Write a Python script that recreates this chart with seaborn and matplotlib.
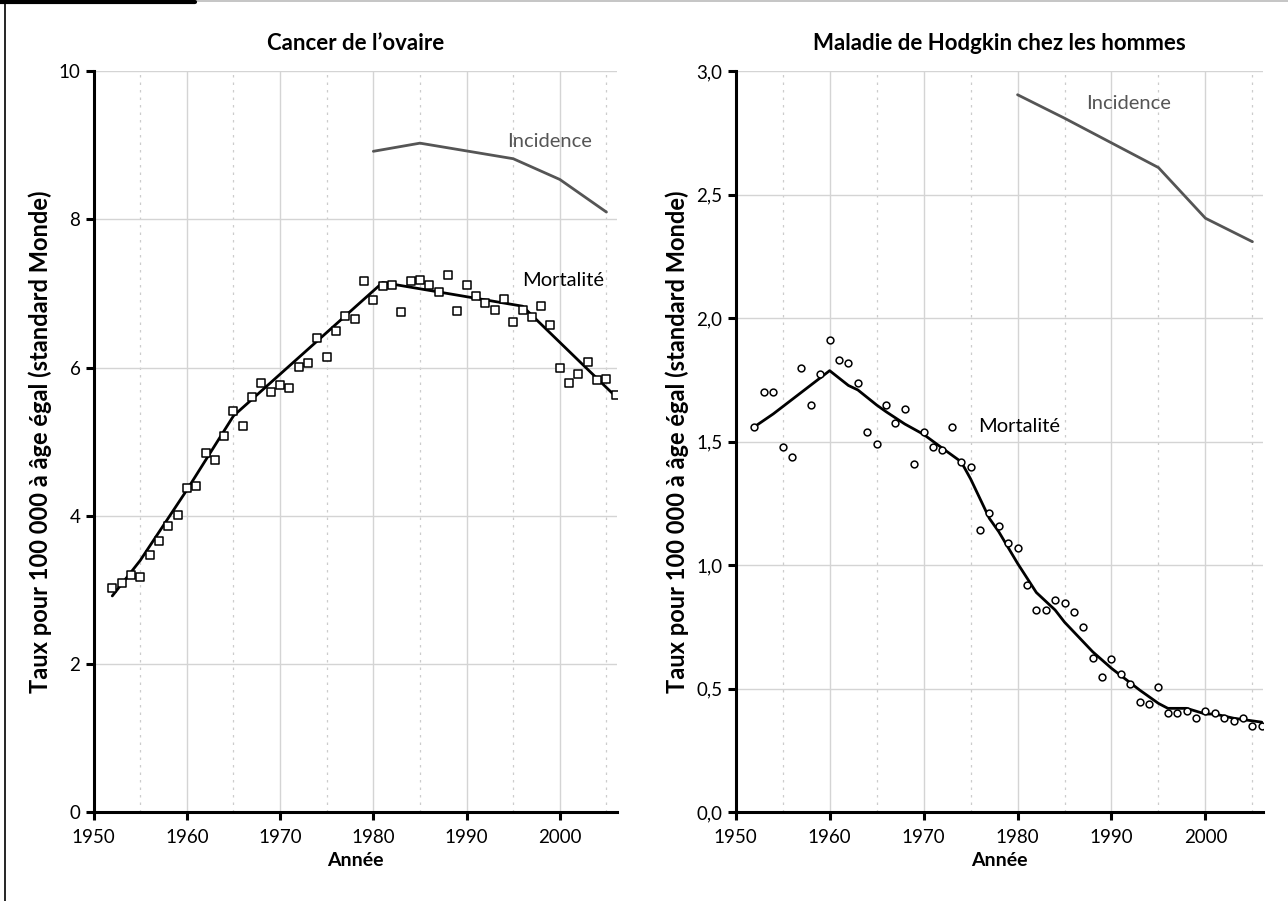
import numpy as np
import pandas as pd
import seaborn as sns
import matplotlib.pyplot as plt
from matplotlib.lines import Line2D
from matplotlib.ticker import MultipleLocator, FuncFormatter

# --- Cancer de l'ovaire: observed mortality (squares) ---
ov_years = list(range(1952, 2007))
ov_mort = [3.03, 3.09, 3.20, 3.18, 3.47, 3.66, 3.87, 4.01, 4.38, 4.41,
           4.85, 4.76, 5.08, 5.42, 5.22, 5.61, 5.80, 5.67, 5.77, 5.73,
           6.01, 6.06, 6.40, 6.15, 6.50, 6.70, 6.66, 7.17, 6.91, 7.10,
           7.12, 6.75, 7.17, 7.18, 7.12, 7.02, 7.25, 6.77, 7.11, 6.97,
           6.87, 6.78, 6.93, 6.61, 6.78, 6.69, 6.83, 6.58, 5.99, 5.80,
           5.91, 6.08, 5.84, 5.85, 5.63]
# fitted mortality trend
ov_fit_years = [1952, 1955, 1960, 1965, 1981, 1996, 2006]
ov_fit = [2.92, 3.40, 4.35, 5.35, 7.15, 6.83, 5.61]
# incidence
ov_inc_years = [1980, 1985, 1995, 2000, 2005]
ov_inc = [8.92, 9.03, 8.82, 8.54, 8.10]

# --- Maladie de Hodgkin chez les hommes ---
hk_years = list(range(1952, 2007))
hk_mort = [1.561, 1.700, 1.700, 1.480, 1.440, 1.800, 1.650, 1.773, 1.912, 1.831,
           1.820, 1.739, 1.540, 1.490, 1.650, 1.577, 1.632, 1.409, 1.541, 1.479,
           1.468, 1.559, 1.418, 1.399, 1.143, 1.211, 1.160, 1.090, 1.069, 0.920,
           0.818, 0.818, 0.860, 0.849, 0.810, 0.749, 0.626, 0.549, 0.619, 0.559,
           0.518, 0.448, 0.440, 0.509, 0.401, 0.401, 0.410, 0.381, 0.410, 0.401,
           0.381, 0.371, 0.381, 0.351, 0.349]
hk_fit_years = [1952, 1954, 1960, 1962, 1963, 1965, 1966, 1968, 1970, 1972,
                1974, 1975, 1977, 1978, 1980, 1982, 1984, 1985, 1988, 1990,
                1993, 1995, 1996, 1998, 2000, 2001, 2003, 2006]
hk_fit = [1.561, 1.613, 1.788, 1.728, 1.710, 1.649, 1.622, 1.572, 1.530, 1.474,
          1.419, 1.350, 1.190, 1.136, 1.008, 0.890, 0.819, 0.770, 0.650, 0.583,
          0.495, 0.441, 0.421, 0.421, 0.398, 0.398, 0.381, 0.365]
hk_inc_years = [1980, 1985, 1990, 1995, 2000, 2005]
hk_inc = [2.905, 2.81, 2.71, 2.61, 2.405, 2.31]

sns.set_style("white")
plt.rcParams['font.family'] = ['Lato', 'DejaVu Sans']
plt.rcParams['text.color'] = 'black'
plt.rcParams['axes.labelcolor'] = 'black'
plt.rcParams['xtick.color'] = 'black'
plt.rcParams['ytick.color'] = 'black'

fig = plt.figure(figsize=(12.88, 9.01), dpi=100)
ax1 = fig.add_axes([0.0727, 0.0984, 0.4061, 0.8225])
ax2 = fig.add_axes([0.5712, 0.0984, 0.4092, 0.8225])

ylabel = 'Taux pour 100 000 à âge égal (standard Monde)'
inc_color = '#555555'


def style_axis(ax, ymax, ystep):
    ax.set_xlim(1950, 2006.1)
    ax.set_ylim(0, ymax)
    ax.xaxis.set_major_locator(MultipleLocator(10))
    ax.xaxis.set_minor_locator(MultipleLocator(5))
    ax.yaxis.set_major_locator(MultipleLocator(ystep))
    ax.grid(which='major', axis='both', color='#d4d4d4', linewidth=1.0)
    ax.grid(which='minor', axis='x', color='#cccccc', linewidth=0.9, linestyle=(0, (2, 4)))
    ax.set_axisbelow(True)
    for s in ['top', 'right']:
        ax.spines[s].set_visible(False)
    for s in ['left', 'bottom']:
        ax.spines[s].set_linewidth(2.2)
        ax.spines[s].set_color('black')
    ax.tick_params(which='major', direction='out', length=6, width=2.2,
                   labelsize=13.5, color='black', labelcolor='black', bottom=True, left=True)
    ax.tick_params(axis='x', which='major', pad=6)
    ax.tick_params(which='minor', length=0)
    ax.set_xlabel('Année', fontsize=14, fontweight='bold', labelpad=4)
    ax.set_ylabel(ylabel, fontsize=17, fontweight='bold', labelpad=5)


# left panel
sns.lineplot(x=ov_fit_years, y=ov_fit, color='black', linewidth=2.0, ax=ax1)
sns.lineplot(x=ov_inc_years, y=ov_inc, color=inc_color, linewidth=2.0, ax=ax1)
sns.scatterplot(x=ov_years, y=ov_mort, marker='s', s=28, facecolor='white',
                edgecolor='black', linewidth=1.1, ax=ax1, zorder=3)
style_axis(ax1, 10, 2)
ax1.set_title('Cancer de l’ovaire', fontsize=16, fontweight='bold', pad=15)
ax1.text(1994.4, 9.05, 'Incidence', color=inc_color, fontsize=14.5, ha='left', va='center')
ax1.text(1996.0, 7.18, 'Mortalité', color='black', fontsize=14.5, ha='left', va='center')

# right panel
sns.lineplot(x=hk_fit_years, y=hk_fit, color='black', linewidth=2.0, ax=ax2)
sns.lineplot(x=hk_inc_years, y=hk_inc, color=inc_color, linewidth=2.0, ax=ax2)
sns.scatterplot(x=hk_years, y=hk_mort, marker='o', s=24, facecolor='white',
                edgecolor='black', linewidth=1.1, ax=ax2, zorder=3)
style_axis(ax2, 3.0, 0.5)
ax2.yaxis.set_major_formatter(FuncFormatter(lambda v, p: f'{v:.1f}'.replace('.', ',')))
ax2.set_title('Maladie de Hodgkin chez les hommes', fontsize=16, fontweight='bold', pad=15)
ax2.text(1987.3, 2.87, 'Incidence', color=inc_color, fontsize=14.5, ha='left', va='center')
ax2.text(1975.8, 1.56, 'Mortalité', color='black', fontsize=14.5, ha='left', va='center')

# frame around the figure
fig.add_artist(Line2D([5 / 1288, 5 / 1288], [0, 1], color='black', linewidth=1.2))
fig.add_artist(Line2D([195 / 1288, 1], [0.999, 0.999], color='#bbbbbb', linewidth=1.2))
fig.add_artist(Line2D([0, 195 / 1288], [0.998, 0.998], color='black', linewidth=3))

plt.savefig('out.png', dpi=100)
